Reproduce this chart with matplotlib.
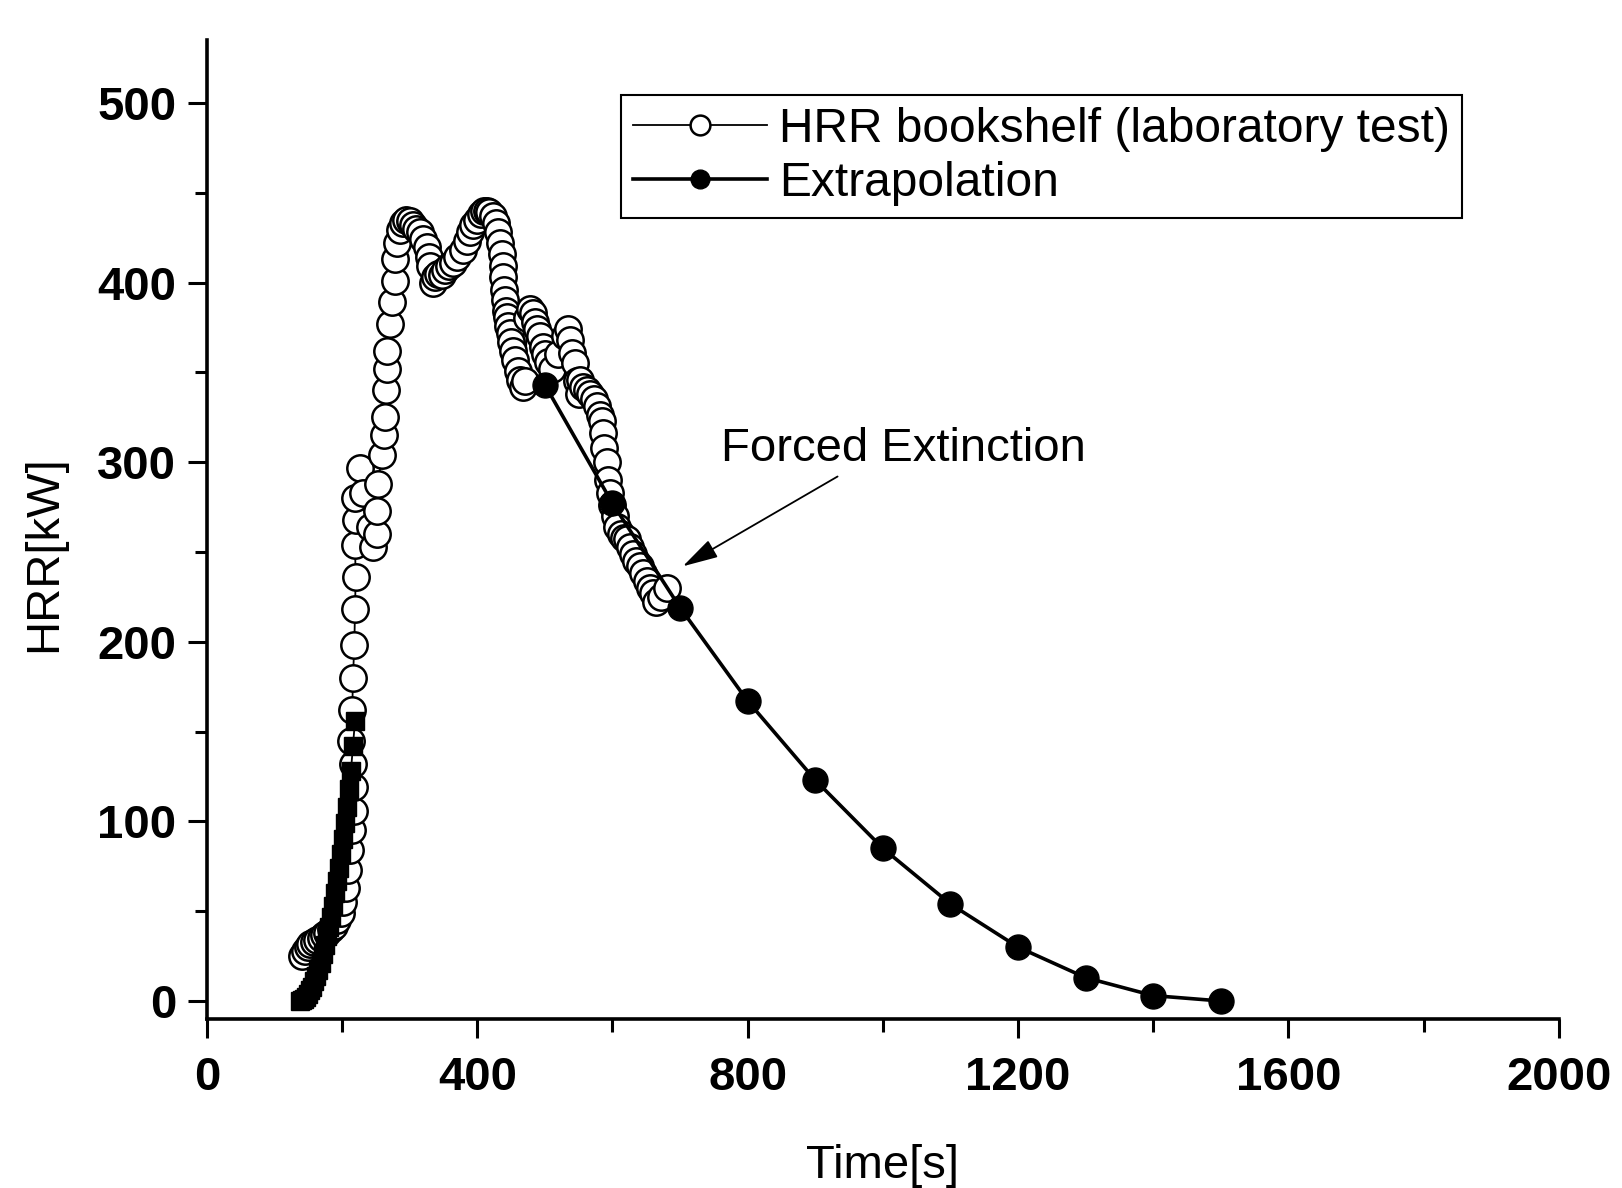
#!/usr/bin/env python3
"""
HRR of a bookshelf: laboratory test, early t-squared growth and extrapolated decay
"""
import numpy as np
import matplotlib
matplotlib.use("Agg")
import matplotlib.pyplot as plt
from matplotlib.ticker import MultipleLocator

plt.rcParams['font.family'] = ['Liberation Sans', 'DejaVu Sans']

# laboratory test (open markers)
lab_time = [141, 145, 149, 153, 158, 163, 168, 173, 178, 183, 188, 193, 198, 202,
            206, 209, 212, 215, 217, 218, 216, 213, 215, 216, 218, 219, 220, 219,
            220, 219, 226, 231, 241, 246, 251, 251, 253, 259, 262, 264, 265, 266,
            267, 271, 274, 278, 278, 281, 285, 290, 295, 300, 305, 310, 315, 320,
            325, 328, 330, 334, 338, 342, 347, 352, 358, 364, 370, 379, 384, 389,
            394, 399, 405, 410, 414, 418, 423, 427, 430, 433, 436, 438, 438, 440,
            441, 443, 444, 446, 448, 450, 453, 456, 460, 463, 467, 470, 474, 478,
            482, 486, 488, 492, 497, 500, 505, 510, 520, 530, 534, 537, 540, 545,
            547, 550, 552, 557, 562, 567, 572, 577, 582, 584, 586, 588, 592, 594,
            596, 600, 603, 606, 612, 617, 621, 626, 630, 635, 640, 645, 651, 655,
            660, 665, 672, 680]
lab_hrr = [25, 28, 30, 32, 33, 34, 35, 37, 38, 40, 42, 45, 49, 55,
           63, 73, 84, 95, 106, 119, 132, 145, 162, 180, 198, 218, 236, 254,
           268, 280, 297, 283, 264, 253, 260, 273, 288, 304, 315, 325, 340, 352,
           362, 377, 389, 401, 413, 422, 429, 433, 435, 434, 432, 430, 428, 424,
           420, 414, 409, 400, 403, 405, 404, 407, 409, 411, 414, 418, 423, 428,
           432, 435, 438, 440, 440, 439, 437, 433, 428, 422, 416, 409, 403, 396,
           390, 384, 381, 376, 372, 367, 362, 357, 351, 346, 342, 345, 380, 385,
           383, 378, 374, 370, 364, 360, 356, 352, 360, 370, 374, 368, 361, 355,
           345, 338, 346, 342, 340, 338, 335, 331, 326, 323, 316, 308, 300, 290,
           283, 276, 270, 264, 260, 258, 257, 253, 249, 245, 242, 238, 234, 230,
           227, 222, 225, 230]

# early growth phase (filled squares)
growth_time = [138, 141, 144, 147, 150, 153, 156, 159, 162, 165, 168, 171, 174, 177,
               180, 183, 186, 189, 192, 195, 198, 201, 204, 207, 210, 213, 216, 219]
growth_hrr = [0, 0.5, 1, 2, 4, 6, 8, 11, 14, 17, 21, 26, 31, 36,
              41, 47, 53, 60, 67, 74, 82, 90, 99, 108, 118, 128, 142, 156]

# extrapolation (filled circles)
ext_time = [500, 600, 700, 800, 900, 1000, 1100, 1200, 1300, 1400, 1500]
ext_hrr = [343, 277, 219, 167, 123, 85, 54, 30, 13, 3, 0]

fig = plt.figure(figsize=(16.22, 11.88), dpi=100)
ax = fig.add_axes([0.1276, 0.1423, 0.8334, 0.8240])

ax.plot(lab_time, lab_hrr, color='k', lw=1.3, marker='o', ms=19,
        mfc='white', mec='k', mew=1.8, label='HRR bookshelf (laboratory test)', zorder=3)
ax.plot(growth_time, growth_hrr, color='k', lw=1.3, marker='s', ms=13,
        mfc='k', mec='k', zorder=4)
ax.plot(ext_time, ext_hrr, color='k', lw=2.6, marker='o', ms=18,
        mfc='k', mec='k', label='Extrapolation', zorder=5)

# annotation: text and arrow drawn separately
ax.text(1030, 295, 'Forced Extinction', fontsize=34, ha='center', va='bottom')
ax.annotate('', xy=(704, 242), xytext=(933, 292),
            arrowprops=dict(arrowstyle='-|>,head_length=1.1,head_width=0.3',
                            mutation_scale=20, color='k', lw=1.3,
                            shrinkA=0, shrinkB=0))

ax.set_xlim(0, 2000)
ax.set_ylim(-10, 535)
ax.xaxis.set_major_locator(MultipleLocator(400))
ax.xaxis.set_minor_locator(MultipleLocator(200))
ax.yaxis.set_major_locator(MultipleLocator(100))
ax.yaxis.set_minor_locator(MultipleLocator(50))

for s in ['top', 'right']:
    ax.spines[s].set_visible(False)
for s in ['left', 'bottom']:
    ax.spines[s].set_linewidth(2.6)

ax.tick_params(which='major', direction='out', length=14, width=2.2, labelsize=34)
ax.tick_params(which='minor', direction='out', length=9, width=2.2)
ax.tick_params(axis='x', which='major', pad=13)
ax.tick_params(axis='y', which='major', pad=8)
for lbl in ax.get_xticklabels() + ax.get_yticklabels():
    lbl.set_fontweight('bold')

ax.set_xlabel('Time[s]', fontsize=34)
ax.set_ylabel('HRR[kW]', fontsize=34)
ax.xaxis.set_label_coords(0.50, -0.128)
ax.yaxis.set_label_coords(-0.104, 0.475)

leg = ax.legend(loc='upper left', bbox_to_anchor=(0.306, 0.944), fontsize=34.5,
                handlelength=2.8, handletextpad=0.25, borderpad=0.25,
                labelspacing=0.19, borderaxespad=0, fancybox=False,
                framealpha=1, edgecolor='k', markerscale=0.75)
leg.get_frame().set_linewidth(1.5)

plt.savefig('out.png', dpi=100)
